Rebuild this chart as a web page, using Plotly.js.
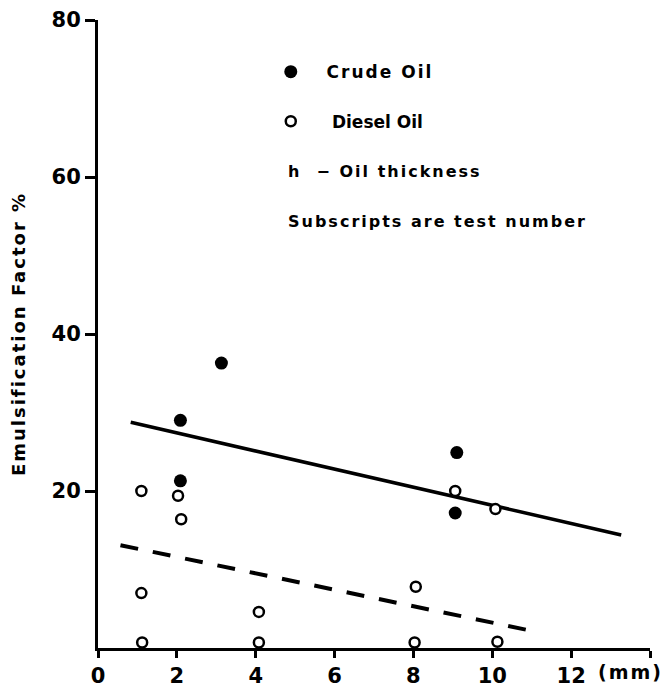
<!DOCTYPE html>
<html>
<head>
<meta charset="utf-8">
<script src="https://cdn.plot.ly/plotly-3.0.1.min.js"></script>
<style>
  html, body { margin: 0; padding: 0; background: #fff; }
  #chart { width: 662px; height: 691px; }
  /* wide lettering for the key, notes and axis title */
  .legendtext, .annotation-text, .ytitle { letter-spacing: 2px !important; }
</style>
</head>
<body>
<div id="chart"></div>
<script>
// Oil thickness h (mm) against emulsification factor (%)
const crudeH   = [3.13, 2.09, 2.09, 9.10, 9.06];
const crudeEF  = [36.3, 29.0, 21.3, 24.9, 17.2];

const dieselH  = [1.10, 2.03, 2.11, 1.10, 1.12, 4.08, 4.08, 8.06, 8.03, 10.13, 9.06, 10.08];
const dieselEF = [20.0, 19.4, 16.4, 7.0, 0.7, 4.6, 0.7, 7.8, 0.7, 0.8, 20.0, 17.7];

// Trend lines (end points of each fitted line)
const crudeFitH   = [0.83, 13.27];
const crudeFitEF  = [28.75, 14.4];
const dieselFitH  = [0.57, 10.89];
const dieselFitEF = [13.1, 2.3];

// Axis ticks
const xTickVals = [0, 2, 4, 6, 8, 10, 12, 14];
const xTickText = ['0', '2', '4', '6', '8', '10', '12', ''];
const yTickVals = [20, 40, 60, 80];

const FONT = 'DejaVu Sans, sans-serif';
const NB = '\u00a0';

const traces = [
  {
    x: crudeFitH, y: crudeFitEF, mode: 'lines', showlegend: false,
    line: { color: '#000', width: 3.5 }, hoverinfo: 'skip'
  },
  {
    x: dieselFitH, y: dieselFitEF, mode: 'lines', showlegend: false,
    line: { color: '#000', width: 4, dash: '18px,15px' }, hoverinfo: 'skip'
  },
  {
    x: crudeH, y: crudeEF, mode: 'markers', name: NB + NB + 'Crude Oil',
    legend: 'legend',
    marker: { symbol: 'circle', size: 13, color: '#000', line: { width: 0 } }
  },
  {
    x: dieselH, y: dieselEF, mode: 'markers', name: NB + NB + NB + '\u2009Diesel Oil',
    legend: 'legend2',
    marker: { symbol: 'circle', size: 10, color: '#fff', line: { color: '#000', width: 2.5 } }
  }
];

const legendCommon = {
  font: { family: FONT, size: 17, color: '#000', weight: 'bold' },
  bgcolor: 'rgba(0,0,0,0)', borderwidth: 0,
  xref: 'paper', yref: 'paper', xanchor: 'left', yanchor: 'middle',
  itemclick: false, itemdoubleclick: false, itemwidth: 30
};

const layout = {
  width: 662, height: 691,
  margin: { l: 98, r: 12, t: 20, b: 43 },
  paper_bgcolor: '#fff', plot_bgcolor: '#fff',
  font: { family: FONT, color: '#000' },
  xaxis: {
    range: [0, 14], showgrid: false, zeroline: false,
    showline: true, linecolor: '#000', linewidth: 3,
    ticks: 'outside', ticklen: 7, tickwidth: 3, tickcolor: '#000',
    tickvals: xTickVals, ticktext: xTickText,
    tickfont: { family: FONT, size: 21, color: '#000', weight: 'bold' }
  },
  yaxis: {
    range: [0, 80], showgrid: false, zeroline: false,
    showline: true, linecolor: '#000', linewidth: 3,
    ticks: 'outside', ticklen: 10, tickwidth: 3, tickcolor: '#000',
    tickvals: yTickVals,
    tickfont: { family: FONT, size: 21, color: '#000', weight: 'bold' },
    title: {
      text: 'Emulsification Factor %', standoff: 22,
      font: { family: FONT, size: 18, color: '#000', weight: 'bold' }
    }
  },
  legend: Object.assign({}, legendCommon, { x: 0.313, y: 0.917 }),
  legend2: Object.assign({}, legendCommon, { x: 0.313, y: 0.838 }),
  annotations: [
    {
      text: 'h' + NB + NB + '\u2212' + NB + 'Oil thickness', xref: 'paper', yref: 'paper',
      x: 0.341, y: 0.759, xanchor: 'left', yanchor: 'middle', showarrow: false,
      font: { family: FONT, size: 16, color: '#000', weight: 'bold' }
    },
    {
      text: 'Subscripts are test number', xref: 'paper', yref: 'paper',
      x: 0.341, y: 0.679, xanchor: 'left', yanchor: 'middle', showarrow: false,
      font: { family: FONT, size: 16, color: '#000', weight: 'bold' }
    },
    {
      text: '(mm)', xref: 'paper', yref: 'paper',
      x: 0.965, y: -0.038, xanchor: 'center', yanchor: 'middle', showarrow: false,
      font: { family: FONT, size: 19, color: '#000', weight: 'bold' }
    }
  ]
};

Plotly.newPlot('chart', traces, layout, { staticPlot: true, displayModeBar: false });
</script>
</body>
</html>
